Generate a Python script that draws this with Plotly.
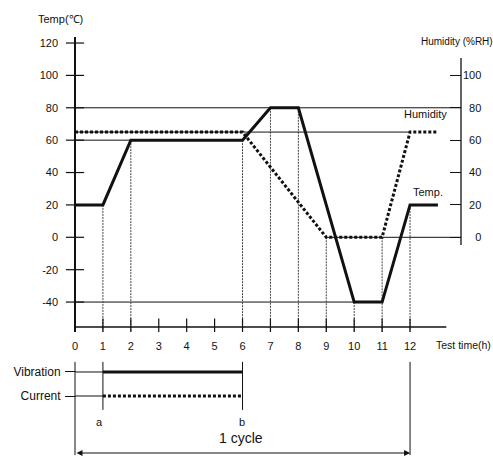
import plotly.graph_objects as go

# ---------------- data ----------------
hours = list(range(13))
temp_time = [0, 1, 2, 6, 7, 8, 10, 11, 12, 13]
temp_vals = [20, 20, 60, 60, 80, 80, -40, -40, 20, 20]
hum_time = [0, 6, 9, 11, 12, 13]
hum_vals = [65, 65, 0, 0, 65, 65]
temp_ticks = [120, 100, 80, 60, 40, 20, 0, -20, -40]
hum_ticks = [100, 80, 60, 40, 20, 0]
rows = ["Vibration", "Current"]
test_span = [1, 6]          # a .. b
test_labels = ["a", "b"]
cycle_span = [0, 12]
# vertical guide lines: time and the level they start from
guide_time = [1, 2, 6, 7, 8, 9, 10, 11, 12]
guide_top = [20, 60, 60, 80, 80, 0, -40, 0, 20]

# ---------------- layout helpers ----------------
W, H = 493, 458
X0PX, XSCALE = 75.0, 27.92          # px of hour 0, px per hour
T0PX, TSCALE = 237.3, 1.619         # px of 0 degC, px per degC
def hx(px):
    return (px - X0PX) / XSCALE
def ty(py):
    return (T0PX - py) / TSCALE
def paper(px, py):
    return px / W, 1 - py / H

RIGHT_AX = hx(461)
AX_BOTTOM = ty(327)
FONT = "Arial, Liberation Sans, sans-serif"
BLACK = "#111"
GUIDE = "#444"

fig = go.Figure()

def line(x, y, width=1, color=BLACK, dash=None, xa="x", ya="y"):
    fig.add_trace(go.Scatter(x=x, y=y, mode="lines", xaxis=xa, yaxis=ya,
                             line=dict(color=color, width=width, dash=dash),
                             hoverinfo="skip", showlegend=False))

# horizontal guide lines
line([0, RIGHT_AX], [max(temp_vals)] * 2)
line([0, 6], [60, 60])
line([0, 12], [hum_vals[0]] * 2, ya="y3")
line([9, RIGHT_AX], [0, 0], ya="y3")
line([0, 11], [min(temp_vals)] * 2)

# vertical guide lines
for t, top in zip(guide_time, guide_top):
    line([t, t], [top, ty(333)], color=GUIDE, dash="2px,1px")

# axes drawn as marks
line([0, 13.3], [AX_BOTTOM, AX_BOTTOM], width=1.5)
line([RIGHT_AX, RIGHT_AX], [ty(245), ty(58)], width=1.3)
fig.add_trace(go.Scatter(x=[0] * len(temp_ticks), y=temp_ticks, mode="markers",
                         marker=dict(symbol="line-ew", size=13,
                                     line=dict(width=1.2, color=BLACK)),
                         hoverinfo="skip", showlegend=False))
fig.add_trace(go.Scatter(x=hours, y=[AX_BOTTOM] * len(hours), mode="markers",
                         marker=dict(symbol="line-ns", size=12,
                                     line=dict(width=1.2, color=BLACK)),
                         hoverinfo="skip", showlegend=False))

# series
line(hum_time, hum_vals, width=3, dash="3px,2px", ya="y3")
line(temp_time, temp_vals, width=3)

# ---------------- lower panel ----------------
line([0, test_span[0]], [1, 1], xa="x2", ya="y2")
line(test_span, [1, 1], width=3, xa="x2", ya="y2")
line([0, test_span[0]], [0, 0], xa="x2", ya="y2")
line(test_span, [0, 0], width=3, dash="3px,2px", xa="x2", ya="y2")
for t in cycle_span:
    line([t, t], [1.42, -2.46], xa="x2", ya="y2")
for t in test_span:
    line([t, t], [1.42, -0.58], xa="x2", ya="y2")

annotations = []
for t, lab in zip(test_span, test_labels):
    annotations.append(dict(x=t, y=-1.08, xref="x2", yref="y2", text=lab,
                            showarrow=False, xshift=-3 if lab == "a" else -1,
                            font=dict(size=11, color=BLACK)))
annotations.append(dict(x=sum(cycle_span) / 2, y=-1.75, xref="x2", yref="y2",
                        text="1 cycle", showarrow=False, xshift=-2,
                        font=dict(size=14, color=BLACK)))
annotations.append(dict(x=cycle_span[1], y=-2.375, ax=cycle_span[0], ay=-2.375,
                        xref="x2", yref="y2", axref="x2", ayref="y2", text="",
                        showarrow=True, arrowhead=2, startarrowhead=2,
                        arrowside="end+start", arrowsize=1, arrowwidth=1.2,
                        arrowcolor=BLACK))

def ptext(px, py, text, anchor="left", size=11):
    x, y = paper(px, py)
    annotations.append(dict(x=x, y=y, xref="paper", yref="paper", text=text,
                            showarrow=False, xanchor=anchor, yanchor="middle",
                            font=dict(size=size, color=BLACK)))

ptext(36, 19, "Temp(℃)")
ptext(419, 42, "Humidity (%RH)", size=10)
ptext(402, 114, "Humidity")
ptext(411, 192, "Temp.")
ptext(434, 345, "Test time(h)", size=10.5)

def pad(v):
    s = str(v)
    return "\u00a0\u00a0" * (3 - len(s)) + s

ytop = ty(37)
ybot = ty(332)
fig.update_layout(
    width=W, height=H, margin=dict(l=0, r=0, t=0, b=0),
    paper_bgcolor="white", plot_bgcolor="white",
    font=dict(family=FONT, size=11, color=BLACK),
    showlegend=False,
    annotations=annotations,
    xaxis=dict(domain=[0, 1], range=[hx(0), hx(W)], anchor="y",
               tickvals=hours, ticktext=[str(h) for h in hours], ticks="",
               showline=False, showgrid=False, zeroline=False,
               ticklabelstandoff=6, tickfont=dict(size=11)),
    yaxis=dict(domain=[1 - 332 / H, 1 - 37 / H], range=[ybot, ytop],
               anchor="free", position=X0PX / W,
               tickvals=temp_ticks, ticktext=[str(v) for v in temp_ticks],
               ticks="", showline=True,
               linecolor=BLACK, linewidth=1.5, showgrid=False, zeroline=False,
               ticklabelstandoff=14, tickfont=dict(size=11)),
    yaxis3=dict(overlaying="y", side="right", anchor="free",
                position=461 / W, range=[ybot, ytop],
                tickvals=hum_ticks, ticktext=[pad(v) for v in hum_ticks],
                ticks="inside", ticklen=11, tickcolor=BLACK, tickwidth=1.2,
                showline=False, showgrid=False, zeroline=False,
                ticklabelstandoff=1, tickfont=dict(size=11)),
    xaxis2=dict(domain=[0, 1], matches="x", anchor="y2", visible=False),
    yaxis2=dict(domain=[0, 100 / H], range=[-2.583, 1.583],
                anchor="free", position=X0PX / W,
                tickvals=[1, 0], ticktext=rows, ticks="outside", ticklen=10,
                tickcolor=BLACK, tickwidth=1, showline=False, showgrid=False,
                zeroline=False, ticklabelstandoff=2, tickfont=dict(size=12)),
)

fig.write_html("out.html",
               config={"displayModeBar": False},
               post_script="document.body.style.margin='0';"
                           "document.body.style.overflow='hidden';")
